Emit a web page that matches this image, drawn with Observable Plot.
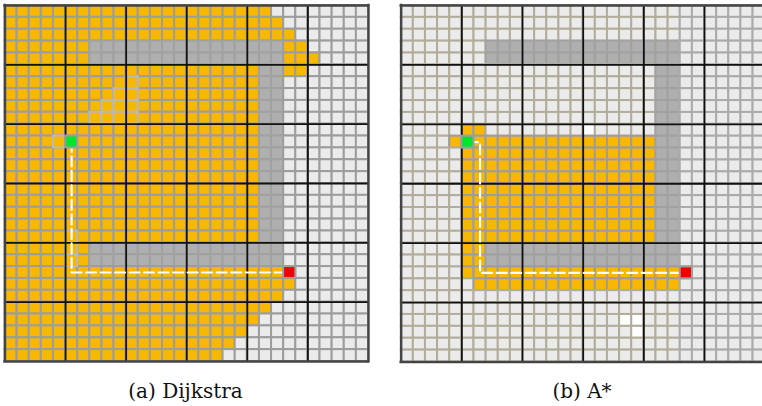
<!DOCTYPE html>
<html>
<head>
<meta charset="utf-8">
<script src="https://cdn.jsdelivr.net/npm/d3@7"></script>
<script src="https://cdn.jsdelivr.net/npm/@observablehq/plot@0.6"></script>
<style>
  html, body { margin: 0; padding: 0; background: #fff; }
  body { width: 762px; height: 406px; overflow: hidden; position: relative; }
  .panel { position: absolute; top: 0; width: 372px; height: 366px; }
  .panel svg { max-width: none !important; }
  .caption {
    position: absolute; top: 379px; width: 300px; text-align: center;
    font-family: "DejaVu Serif", "Liberation Serif", serif; font-size: 20px;
    line-height: 24px; color: #111;
  }
</style>
</head>
<body>
<div id="left" class="panel" style="left:0px"></div>
<div id="right" class="panel" style="left:396px"></div>
<div class="caption" style="left:35.5px">(a) Dijkstra</div>
<div class="caption" style="left:432px">(b) A*</div>
<script>
// 30 x 30 occupancy grid, cells addressed as [column, row] from the top-left.
const gridSize = 30;
const start = [5, 11];
const goal = [23, 22];

// Obstacle runs: [row, firstColumn, lastColumn]
const walls = [
  [3, 7, 22], [4, 7, 22],
  [5, 21, 22], [6, 21, 22], [7, 21, 22], [8, 21, 22], [9, 21, 22],
  [10, 21, 22], [11, 21, 22], [12, 21, 22], [13, 21, 22], [14, 21, 22],
  [15, 21, 22], [16, 21, 22], [17, 21, 22], [18, 21, 22], [19, 21, 22],
  [20, 7, 22], [21, 7, 22]
];

// Cells expanded by Dijkstra: [row, firstColumn, lastColumn]
const dijkstraVisited = [
  [0, 0, 21], [1, 0, 22], [2, 0, 23],
  [3, 0, 6], [3, 23, 24],
  [4, 0, 6], [4, 23, 25],
  [5, 0, 20], [5, 23, 24],
  [6, 0, 20], [7, 0, 20], [8, 0, 20], [9, 0, 20], [10, 0, 20],
  [11, 0, 20], [12, 0, 20], [13, 0, 20], [14, 0, 20], [15, 0, 20],
  [16, 0, 20], [17, 0, 20], [18, 0, 20], [19, 0, 20],
  [20, 0, 6], [21, 0, 6],
  [22, 0, 22], [23, 0, 23], [24, 0, 22], [25, 0, 21],
  [26, 0, 20], [27, 0, 19], [28, 0, 18], [29, 0, 17]
];

// Cells expanded by A*: [row, firstColumn, lastColumn]
const astarVisited = [
  [10, 5, 6],
  [11, 4, 4], [11, 6, 20],
  [12, 5, 20], [13, 5, 20], [14, 5, 20], [15, 5, 20],
  [16, 5, 20], [17, 5, 20], [18, 5, 20], [19, 5, 20],
  [20, 5, 6], [21, 5, 6],
  [22, 5, 22],
  [23, 6, 22]
];

// Unshaded cells in the A* grid: [column, row]
const astarBlank = [[15, 10], [18, 26], [19, 26], [19, 27]];

// Cells with a lighter outline in the Dijkstra grid: [column, row]
const dijkstraFaint = [[10, 6], [9, 7], [10, 7], [8, 8], [9, 8], [10, 8],
  [7, 9], [8, 9], [9, 9], [10, 9], [4, 11], [5, 19], [5, 20], [5, 21]];

// Returned paths as waypoints [column, row]
const dijkstraPath = [[5, 11], [5, 22], [23, 22]];
const astarPath = [[5, 11], [6, 11], [6, 22], [23, 22]];

const colors = {
  free: "#ebebeb", wall: "#afafaf", visited: "#f8b700", blank: "#ffffff",
  start: "#00e62a", goal: "#f20000", line: "#9d9d9d", faint: "#b9b9b9",
  tan: "#b2ad9b", lineFar: "#ababab"
};

function runSet(runs) {
  const s = new Set();
  for (const [r, c1, c2] of runs) for (let c = c1; c <= c2; ++c) s.add(c + "," + r);
  return s;
}

function buildCells(visitedRuns, opts) {
  const wallSet = runSet(walls);
  const visSet = runSet(visitedRuns);
  const blankSet = new Set((opts.blank || []).map(([c, r]) => c + "," + r));
  const cells = [];
  for (let r = 0; r < gridSize; ++r) {
    for (let c = 0; c < gridSize; ++c) {
      const k = c + "," + r;
      let fill = colors.free, stroke = colors.line;
      if (wallSet.has(k)) { fill = colors.wall; stroke = "#a1a1a1"; }
      else if (visSet.has(k)) fill = colors.visited;
      else {
        if (blankSet.has(k)) fill = colors.blank;
        if (opts.tinted) stroke = c <= 22 ? colors.tan : colors.lineFar;
      }
      cells.push({c, r, fill, stroke});
    }
  }
  // lighter outlines drawn last so their edges stay visible
  for (const [c, r] of (opts.faint || [])) {
    const cell = cells[r * gridSize + c];
    cells.push({c, r, fill: cell.fill, stroke: colors.faint});
  }
  return cells;
}

function panel(visitedRuns, path, opts) {
  const cells = buildCells(visitedRuns, opts);
  const majors = d3.range(0, gridSize + 1, 5);
  const inner = majors.filter(v => v > 0 && v < gridSize);
  const edges = [0, gridSize];
  const ends = [{c: start[0], r: start[1], fill: colors.start}, {c: goal[0], r: goal[1], fill: colors.goal}];
  return Plot.plot({
    width: opts.width, height: opts.height,
    margin: 0,
    style: {maxWidth: "none"},
    x: {domain: [0, gridSize], range: opts.xRange, axis: null},
    y: {domain: [0, gridSize], range: opts.yRange, axis: null},
    color: {type: "identity"},
    marks: [
      Plot.rect(cells, {x1: "c", x2: d => d.c + 1, y1: "r", y2: d => d.r + 1,
        fill: "fill", stroke: "stroke", strokeWidth: 2}),
      Plot.ruleX(inner, {x: d => d, y1: d => 0, y2: d => gridSize, stroke: "#111", strokeWidth: 1.8}),
      Plot.ruleY(inner, {y: d => d, x1: d => 0, x2: d => gridSize, stroke: "#111", strokeWidth: 1.8}),
      Plot.ruleX(edges, {x: d => d, y1: d => 0, y2: d => gridSize, stroke: "#444", strokeWidth: 2.4, strokeLinecap: "square"}),
      Plot.ruleY(edges, {y: d => d, x1: d => 0, x2: d => gridSize, stroke: "#444", strokeWidth: 2.4, strokeLinecap: "square"}),
      Plot.line(path, {x: d => d[0] + 0.5, y: d => d[1] + 0.5, stroke: "#fff",
        strokeWidth: 2.2, strokeDasharray: "10,4.5", curve: "linear"}),
      Plot.rect(ends, {x1: "c", x2: d => d.c + 1, y1: "r", y2: d => d.r + 1,
        fill: "fill", stroke: colors.line, strokeWidth: 2})
    ]
  });
}

document.getElementById("left").append(panel(dijkstraVisited, dijkstraPath, {
  width: 372, height: 366, xRange: [4.5, 368], yRange: [5, 361],
  faint: dijkstraFaint
}));
document.getElementById("right").append(panel(astarVisited, astarPath, {
  width: 372, height: 366, xRange: [4.7, 368.7], yRange: [5, 361.5],
  blank: astarBlank, tinted: true
}));
</script>
</body>
</html>
